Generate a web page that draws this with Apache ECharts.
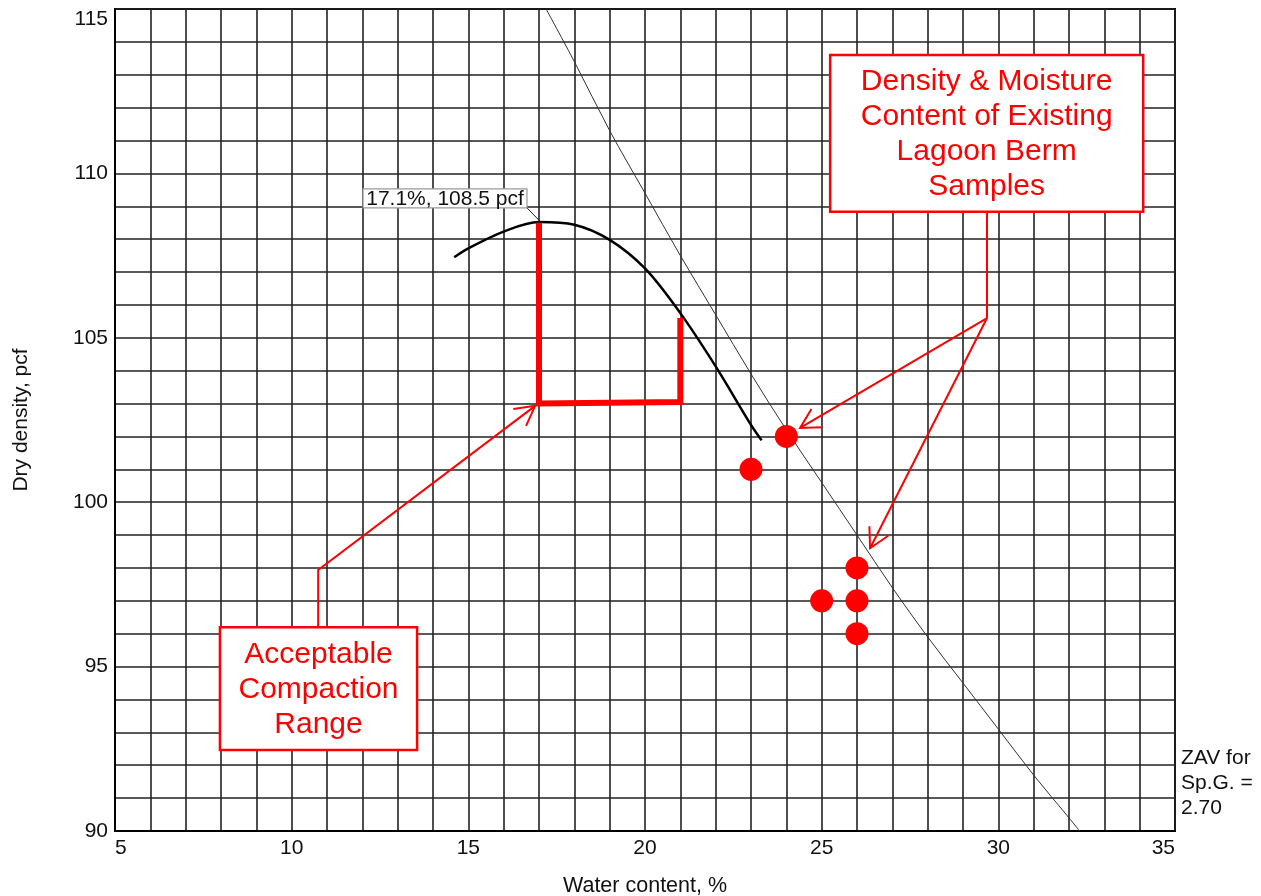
<!DOCTYPE html>
<html>
<head>
<meta charset="utf-8">
<script src="https://cdn.jsdelivr.net/npm/echarts@6/dist/echarts.min.js"></script>
<style>
html,body{margin:0;padding:0;background:#fff;}
#chart{width:1261px;height:896px;}
</style>
</head>
<body>
<div id="chart"></div>
<script>
// ---- data ----
const xTickLabels = [5, 10, 15, 20, 25, 30, 35];
const yTickLabels = [90, 95, 100, 105, 110, 115];
// Zero-air-voids line (Sp.G. = 2.70): [water content %, dry density pcf]
const zavCurve = [[17.2,115],[18,113.4],[19,111.3],[20,109.4],[21,107.5],[22,105.7],[23,103.9],[24,102.2],[25,100.6],[26,99.0],[27,97.4],[28,95.9],[29,94.5],[30,93.1],[31,91.7],[32,90.4],[32.3,90]];
// Compaction (Proctor) curve
const compactionCurve = [[14.6,107.45],[15,107.72],[16,108.23],[17,108.52],[18,108.44],[19,107.98],[20,107.11],[21,105.75],[22,104.13],[23,102.35],[23.3,101.88]];
// Acceptable compaction range bracket
const acceptableRange = [[17,108.5],[17,103.0],[21,103.05],[21,105.6]];
// Existing lagoon berm samples
const bermSamples = [[23,101],[24,102],[25,97],[26,98],[26,97],[26,96]];
// Texts
const peakText = '17.1%, 108.5 pcf';
const zavText = 'ZAV for\nSp.G. =\n2.70';
const densityText = 'Density & Moisture\nContent of Existing\nLagoon Berm\nSamples';
const acceptText = 'Acceptable\nCompaction\nRange';

// ---- annotation anchors (data coordinates) ----
const ann = {
  peakBox: [12.02, 109.53, 16.66, 108.95],
  peakLeader: [[16.66,108.95],[17.05,108.52]],
  densityBox: [25.24, 113.6, 34.1, 108.83],
  densityStem: [[29.68,108.83],[29.68,105.6]],
  densityArrows: [[[29.68,105.6],[24.39,102.26]], [[29.68,105.6],[26.37,98.6]]],
  acceptBox: [7.97, 96.2, 13.55, 92.46],
  acceptArrow: [[10.75,96.2],[10.75,97.94],[16.89,102.93]],
  zavLabel: [35, 91.45]
};

const FONT = '"Liberation Sans", Arial, Helvetica, sans-serif';
const RED = '#ff0000';

function head(tip, from, len, ang) {
  const a = Math.atan2(from[1]-tip[1], from[0]-tip[0]);
  return [
    [tip[0]+len*Math.cos(a+ang), tip[1]+len*Math.sin(a+ang)],
    tip,
    [tip[0]+len*Math.cos(a-ang), tip[1]+len*Math.sin(a-ang)]
  ];
}

function renderAnnotations(params, api) {
  if (params.dataIndex !== 0) return null;
  const c = p => api.coord(p);
  const els = [];
  const redLine = pts => ({type:'polyline', shape:{points: pts}, style:{stroke:RED, lineWidth:2, fill:null}});
  // density arrows
  els.push(redLine(ann.densityStem.map(c)));
  ann.densityArrows.forEach(seg => {
    const p = seg.map(c);
    els.push(redLine(p));
    els.push(redLine(head(p[1], p[0], 22, 0.5)));
  });
  // acceptable arrow
  const ap = ann.acceptArrow.map(c);
  els.push(redLine(ap));
  els.push(redLine(head(ap[2], ap[1], 22, 0.5)));
  // boxes
  function box(b, text) {
    const p1 = c([b[0], b[1]]), p2 = c([b[2], b[3]]);
    els.push({type:'rect', shape:{x:p1[0], y:p1[1], width:p2[0]-p1[0], height:p2[1]-p1[1]},
      style:{fill:'#fff', stroke:RED, lineWidth:2.5}});
    els.push({type:'text', style:{text:text, x:(p1[0]+p2[0])/2, y:(p1[1]+p2[1])/2+1,
      align:'center', verticalAlign:'middle', fill:RED, font:'30px '+FONT, lineHeight:35}});
  }
  box(ann.densityBox, densityText);
  box(ann.acceptBox, acceptText);
  // peak label
  const q1 = c([ann.peakBox[0], ann.peakBox[1]]), q2 = c([ann.peakBox[2], ann.peakBox[3]]);
  els.push({type:'polyline', shape:{points: ann.peakLeader.map(c)}, style:{stroke:'#222', lineWidth:1, fill:null}});
  els.push({type:'rect', shape:{x:q1[0], y:q1[1], width:q2[0]-q1[0], height:q2[1]-q1[1]},
    style:{fill:'#fff', stroke:'#999', lineWidth:1.2}});
  els.push({type:'text', style:{text:peakText, x:(q1[0]+q2[0])/2, y:(q1[1]+q2[1])/2+1,
    align:'center', verticalAlign:'middle', fill:'#111', font:'21px '+FONT}});
  // ZAV label
  const z = c(ann.zavLabel);
  els.push({type:'text', style:{text:zavText, x:z[0]+6, y:z[1], align:'left', verticalAlign:'middle',
    fill:'#111', font:'21px '+FONT, lineHeight:25}});
  return {type:'group', children: els};
}

const gridLineStyle = {color:'#222', width:1.6};

const chart = echarts.init(document.getElementById('chart'), null, {renderer:'canvas'});
chart.setOption({
  animation: false,
  backgroundColor: '#fff',
  grid: {left:115, right:86, top:9, bottom:65, containLabel:false, outerBoundsMode:'none',
    show:true, borderColor:'#000', borderWidth:2, backgroundColor:'transparent'},
  xAxis: {
    type:'value', min:5, max:35, interval:1,
    name:'Water content, %', nameLocation:'middle', nameGap:44,
    nameTextStyle:{fontFamily:FONT, fontSize:21.5, color:'#111'},
    axisLine:{show:true, lineStyle:{color:'#000', width:2}},
    axisTick:{show:false},
    axisLabel:{fontFamily:FONT, fontSize:21, color:'#111', margin:7,
      formatter: v => xTickLabels.indexOf(v) >= 0 ? String(v) : '',
      alignMinLabel:'left', alignMaxLabel:'right'},
    splitLine:{show:true, lineStyle:gridLineStyle}
  },
  yAxis: {
    type:'value', min:90, max:115, interval:1,
    name:'Dry density, pcf', nameLocation:'middle', nameGap:83,
    nameTextStyle:{fontFamily:FONT, fontSize:21, color:'#111'},
    axisLine:{show:true, lineStyle:{color:'#000', width:2}},
    axisTick:{show:false},
    axisLabel:{fontFamily:FONT, fontSize:21, color:'#111', margin:7,
      formatter: v => yTickLabels.indexOf(v) >= 0 ? String(v) : '',
      verticalAlignMaxLabel:'top'},
    splitLine:{show:true, lineStyle:gridLineStyle}
  },
  series: [
    {type:'line', name:'ZAV', data: zavCurve, smooth:0.33, symbol:'none',
      lineStyle:{color:'#333', width:1}, z:3},
    {type:'line', name:'Compaction', data: compactionCurve, smooth:0.33, symbol:'none',
      lineStyle:{color:'#000', width:2.5}, z:4},
    {type:'line', name:'Acceptable range', data: acceptableRange, symbol:'none',
      lineStyle:{color:RED, width:6, join:'miter'}, z:5},
    {type:'scatter', name:'Samples', data: bermSamples, symbol:'circle', symbolSize:23,
      itemStyle:{color:RED, opacity:1}, z:6},
    {type:'custom', name:'annotations', data:[[0,0]], renderItem: renderAnnotations,
      clip:false, silent:true, z:10}
  ]
});
</script>
</body>
</html>
